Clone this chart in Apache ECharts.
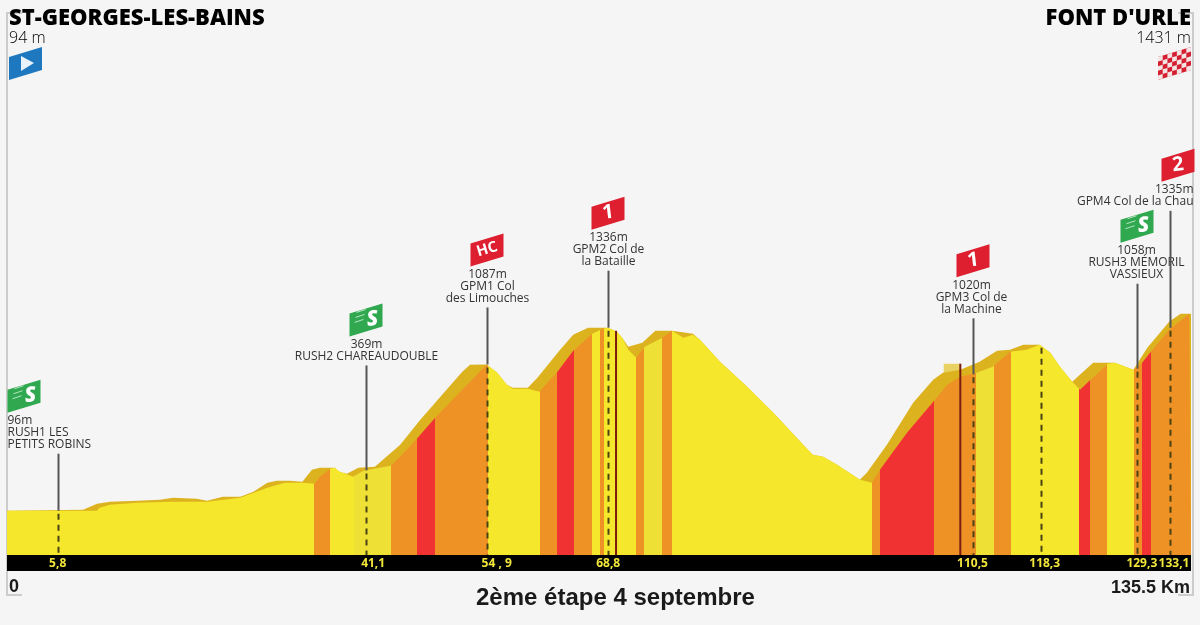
<!DOCTYPE html>
<html lang="fr">
<head>
<meta charset="UTF-8">
<title>2ème étape 4 septembre</title>
<script src="https://cdn.jsdelivr.net/npm/echarts@6/dist/echarts.min.js"></script>
<style>
  html, body { margin: 0; padding: 0; background: #f5f5f5; }
  #chart { width: 1200px; height: 625px; }
</style>
</head>
<body>
<div id="chart"></div>
<script>
// profil du fond (km, altitude)
var backKm = [0, 8.7, 10.3, 11.8, 14.9, 17.5, 19.0, 21.7, 22.9, 24.7, 26.7, 28.2, 29.8, 30.9, 32.4, 33.8, 34.9, 35.8, 37.5, 38.0, 38.9, 40.2, 42.1, 45.0, 47.3, 49.6, 52.1, 53.0, 54.9, 56.1, 57.2, 57.9, 59.6, 60.7, 63.3, 64.8, 66.5, 68.8, 69.8, 70.4, 71.1, 72.7, 74.2, 76.1, 78.5, 79.3, 81.6, 84.7, 87.7, 90.8, 92.2, 93.4, 95.0, 97.6, 98.4, 100.7, 103.7, 106.0, 107.1, 109.1, 111.3, 113.3, 114.8, 116.3, 118.2, 119.4, 120.5, 121.9, 124.3, 126.8, 128.9, 130.5, 133.0, 134.3, 135.5];
var backAlt = [96, 103, 143, 157, 164, 170, 184, 177, 164, 191, 191, 225, 286, 299, 299, 292, 374, 387, 387, 360, 347, 387, 394, 543, 713, 868, 1038, 1085, 1087, 1031, 950, 929, 929, 997, 1187, 1288, 1336, 1336, 1309, 1268, 1207, 1234, 1315, 1315, 1295, 1255, 1105, 936, 760, 563, 475, 462, 408, 306, 353, 543, 828, 984, 1031, 1051, 1105, 1180, 1187, 1221, 1221, 1166, 1072, 970, 1099, 1099, 1051, 1200, 1376, 1431, 1431];

// profil de devant, colore par pente
var frontKm = [0, 8.7, 10.3, 10.6, 11.8, 14.9, 19.0, 22.9, 26.7, 29.8, 31.8, 33.8, 35.2, 35.8, 37.0, 37.5, 38.1, 39.6, 40.8, 43.9, 45.0, 47.0, 49.0, 54.9, 56.1, 57.2, 57.9, 59.6, 60.9, 62.9, 64.8, 67.0, 68.2, 68.8, 69.8, 70.4, 71.1, 72.0, 73.0, 75.0, 76.1, 77.4, 78.5, 79.3, 81.6, 84.7, 87.7, 90.8, 92.2, 93.4, 95.0, 97.6, 99.0, 99.9, 103.0, 106.0, 107.6, 109.1, 111.0, 112.8, 114.8, 116.7, 118.2, 119.4, 120.5, 121.9, 122.8, 124.0, 126.0, 126.8, 128.9, 129.9, 130.9, 133.0, 135.3, 135.5];
var frontAlt = [96, 96, 96, 116, 137, 150, 157, 157, 184, 252, 286, 286, 279, 326, 380, 387, 360, 326, 367, 401, 462, 591, 726, 1087, 1031, 950, 922, 922, 902, 1031, 1180, 1295, 1329, 1336, 1309, 1268, 1187, 1133, 1207, 1268, 1315, 1268, 1288, 1255, 1105, 936, 760, 563, 475, 462, 408, 306, 286, 374, 624, 834, 950, 1004, 1031, 1072, 1173, 1187, 1221, 1166, 1072, 970, 916, 984, 1092, 1099, 1051, 1099, 1173, 1322, 1431, 1431];

// tranches de pente : km de fin et type
var bandEnd = [35.1, 37.0, 39.7, 43.9, 46.9, 49.0, 55.0, 61.0, 62.9, 64.9, 66.9, 67.9, 68.3, 72.0, 72.9, 75.0, 76.1, 99.0, 99.9, 106.1, 110.9, 113.0, 114.9, 122.7, 123.9, 125.9, 129.0, 129.9, 130.9, 135.5];
var bandType = ['y', 'o', 'y', 'p', 'o', 'r', 'o', 'y', 'o', 'r', 'o', 'y', 'o', 'y', 'o', 'p', 'o', 'y', 'o', 'r', 'o', 'p', 'o', 'y', 'r', 'o', 'y', 'o', 'r', 'o'];

// points de passage
var pinKm = [5.8, 41.1, 54.9, 68.8, 110.5, 118.3, 129.3, 133.1];
var pinAlt = [96, 369, 1087, 1336, 1020, 1221, 1058, 1335];
var pinText = [
  ['96m', 'RUSH1 LES', 'PETITS ROBINS'],
  ['369m', 'RUSH2 CHAREAUDOUBLE'],
  ['1087m', 'GPM1 Col', 'des Limouches'],
  ['1336m', 'GPM2 Col de', 'la Bataille'],
  ['1020m', 'GPM3 Col de', 'la Machine'],
  [],
  ['1058m', 'RUSH3 MÉMORIL', 'VASSIEUX'],
  ['1335m', 'GPM4 Col de la Chau']
];
var pinFlag = ['S', 'S', 'HC', '1', '1', '', 'S', '2'];
var kmLabels = ['5,8', '41,1', '54 , 9', '68,8', '110,5', '118,3', '129,3', '133,1'];

// cols marques par un trait rouge sombre
var markKm = [69.7, 109.1];
var markAlt = [1315, 1092];

var patchKm = [107.2, 109.1];
var patchAlt = [1092, 1092];

var yMin = -204, yMax = 3468;
var colors = { y: '#f5e82c', p: '#eee035', o: '#ee9225', r: '#f13233' };
var gold = '#dcb31f';
var textFont = '12px "Open Sans"';

// reglages d'affichage pour chaque point
var leader = [57, 105, 57, 57, 56, 0, 85, 117];
var kmShift = [0, 7, 10, 0, 0, 4, 5, 4];
var flagShift = [-34, 0, 0, 0, 0, 0, 0, 8];
var textAlign = ['left', 'center', 'center', 'center', 'center', 'center', 'center', 'right'];
var textX = [-51, 0, 0, 0, -2, 0, -1, 23];

var pieces = bandEnd.map(function (end, i) {
  return { gt: i ? bandEnd[i - 1] : -1, lte: end, color: colors[bandType[i]] };
});

function zip(a, b) {
  return a.map(function (v, i) { return [v, b[i]]; });
}

// drapeau penche, (x, y) est le coin bas gauche
function flag(x, y, label) {
  var w = 33, h = 33, skew = 10;
  var green = label === 'S';
  var kids = [{
    type: 'polygon',
    shape: { points: [[x, y - h + skew], [x + w, y - h], [x + w, y - skew], [x, y]] },
    style: { fill: green ? '#2fa84f' : '#dd1f30' }
  }];
  if (green) {
    [0, 1, 2].forEach(function (k) {
      kids.push({
        type: 'line',
        shape: { x1: x + 5 + k, y1: y - 14 - k * 5, x2: x + 14 + k, y2: y - 17 - k * 5 },
        style: { stroke: '#b9e4c4', lineWidth: 1 }
      });
    });
  }
  kids.push({
    type: 'text',
    x: x + (green ? 23 : w / 2),
    y: y - h / 2 - 0.5,
    rotation: label === 'HC' ? 0.29 : 0.12,
    style: {
      text: label,
      fill: '#fff',
      font: (green ? 'italic 800 21px "Open Sans"' : label === 'HC' ? 'bold 15px "Open Sans"' : 'bold 20px "Open Sans"'),
      align: 'center',
      verticalAlign: 'middle'
    }
  });
  return kids;
}

function renderPin(params, api) {
  var i = params.dataIndex;
  var p = api.coord([api.value(0), api.value(1)]);
  var x = Math.round(p[0]) + 0.5, y = p[1];
  var bottom = api.coord([api.value(0), yMin])[1];
  var top = y - leader[i];
  var kids = [{
    type: 'line',
    shape: { x1: x, y1: y + 3, x2: x, y2: bottom },
    style: { stroke: '#4a4213', lineWidth: 2, lineDash: [6, 5] }
  }, {
    type: 'text',
    x: p[0] + kmShift[i],
    y: bottom + 8.5,
    style: { text: kmLabels[i], fill: '#f2e63a', font: 'bold 12px "Open Sans"', align: 'center', verticalAlign: 'middle' }
  }];
  if (leader[i]) {
    kids.push({
      type: 'line',
      shape: { x1: x, y1: y, x2: x, y2: top },
      style: { stroke: '#555', lineWidth: 2 }
    });
    var lines = pinText[i];
    lines.forEach(function (line, k) {
      kids.push({
        type: 'text',
        x: x + textX[i],
        y: top - 9 - (lines.length - 1 - k) * 12,
        style: { text: line, fill: '#333', font: textFont, align: textAlign[i], verticalAlign: 'middle' }
      });
    });
    var flagBottom = top - 9 - (lines.length - 1) * 12 - 8;
    kids = kids.concat(flag(x - 17 + flagShift[i], flagBottom, pinFlag[i]));
  }
  return { type: 'group', children: kids };
}

function renderMark(params, api) {
  var p = api.coord([api.value(0), api.value(1)]);
  var bottom = api.coord([api.value(0), yMin])[1];
  return {
    type: 'line',
    shape: { x1: p[0], y1: p[1], x2: p[0], y2: bottom },
    style: { stroke: '#7a1c10', lineWidth: 2 }
  };
}

// drapeaux de depart et d'arrivee
function startFlag() {
  var x = 9, y = 80;
  return [{
    type: 'polygon',
    shape: { points: [[x, y - 23], [x + 33, y - 33], [x + 33, y - 10], [x, y]] },
    style: { fill: '#1e78c0' },
    z: 5
  }, {
    type: 'polygon',
    shape: { points: [[x + 12, y - 24], [x + 25, y - 17], [x + 12, y - 9]] },
    style: { fill: '#e8f2fa' },
    z: 6
  }];
}

function finishFlag() {
  var x = 1158, y = 80, cell = 33 / 7, rowH = 23 / 5, slope = 10 / 33;
  var out = [{
    type: 'polygon',
    shape: { points: [[x, y - 23], [x + 33, y - 33], [x + 33, y - 10], [x, y]] },
    style: { fill: '#d41f30' },
    z: 5
  }];
  for (var c = 0; c < 7; c++) {
    for (var r = 0; r < 5; r++) {
      if ((c + r) % 2) continue;
      var x0 = c * cell, x1 = x0 + cell;
      var t0 = y - 23 - x0 * slope + r * rowH;
      var t1 = y - 23 - x1 * slope + r * rowH;
      out.push({
        type: 'polygon',
        shape: { points: [[x + x0, t0], [x + x1, t1], [x + x1, t1 + rowH], [x + x0, t0 + rowH]] },
        style: { fill: '#f4e4e4' },
        z: 6
      });
    }
  }
  return out;
}

var frame = [
  [[22, 13], [7, 13], [7, 595], [22, 595]],
  [[1178, 13], [1193, 13], [1193, 595], [1178, 595]]
].map(function (pts) {
  return { type: 'polyline', shape: { points: pts }, style: { fill: 'none', stroke: '#cccccc', lineWidth: 2 }, z: -1 };
});

function bigTitle(text, pos) {
  return Object.assign({ text: text, padding: 0, top: 8, textStyle: { fontFamily: 'Open Sans', fontWeight: 800, fontSize: 22, color: '#000' } }, pos);
}
function altTitle(text, pos) {
  return Object.assign({ text: text, padding: 0, top: 30, textStyle: { fontFamily: 'Open Sans', fontWeight: 300, fontSize: 16, color: '#000' } }, pos);
}
function footTitle(text, size, pos) {
  return Object.assign({ text: text, padding: 0, textStyle: { fontFamily: 'Liberation Sans', fontWeight: 'bold', fontSize: size, color: '#1a1a1a' } }, pos);
}

var chart = echarts.init(document.getElementById('chart'));

chart.setOption({
  animation: false,
  backgroundColor: '#f5f5f5',
  title: [
    bigTitle('ST-GEORGES-LES-BAINS', { left: 9 }),
    altTitle('94 m', { left: 9 }),
    bigTitle("FONT D'URLE", { right: 9 }),
    altTitle('1431 m', { right: 9 }),
    footTitle('2ème étape 4 septembre', 24, { left: 476, top: 586 }),
    footTitle('0', 18, { left: 9, top: 578 }),
    footTitle('135.5 Km', 18, { right: 10, top: 579 })
  ],
  grid: { left: 7, width: 1184, top: 13, height: 542 },
  xAxis: {
    type: 'value',
    min: 0,
    max: 135.5,
    offset: 8,
    axisLine: { onZero: false, lineStyle: { color: '#000', width: 16, cap: 'butt' } },
    axisTick: { show: false },
    axisLabel: { show: false },
    splitLine: { show: false }
  },
  yAxis: { type: 'value', min: yMin, max: yMax, show: false, splitLine: { show: false } },
  visualMap: { show: false, type: 'piecewise', dimension: 0, seriesIndex: 2, pieces: pieces },
  graphic: frame.concat(startFlag(), finishFlag()),
  series: [
    {
      type: 'line',
      data: zip(patchKm, patchAlt),
      showSymbol: false,
      lineStyle: { width: 0 },
      areaStyle: { color: '#e9d263', origin: 'start', opacity: 1 }
    },
    {
      type: 'line',
      data: zip(backKm, backAlt),
      showSymbol: false,
      lineStyle: { width: 0 },
      areaStyle: { color: gold, origin: 'start', opacity: 1 }
    },
    {
      type: 'line',
      data: zip(frontKm, frontAlt),
      showSymbol: false,
      lineStyle: { width: 0 },
      areaStyle: { origin: 'start', opacity: 1 }
    },
    {
      type: 'custom',
      data: zip(markKm, markAlt),
      renderItem: renderMark,
      encode: { x: 0, y: 1 },
      z: 3
    },
    {
      type: 'custom',
      data: zip(pinKm, pinAlt),
      renderItem: renderPin,
      encode: { x: 0, y: 1 },
      z: 4
    }
  ]
});
</script>
</body>
</html>
